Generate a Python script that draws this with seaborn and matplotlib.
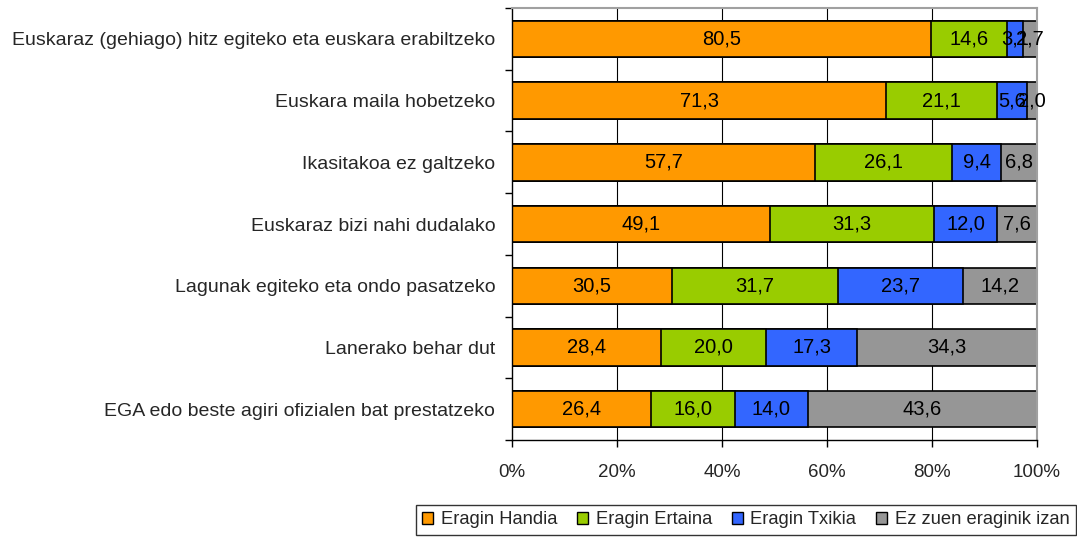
import numpy as np
import pandas as pd
import matplotlib
matplotlib.use("Agg")
import matplotlib.pyplot as plt
from matplotlib.patches import Patch
import seaborn as sns

# Data (percent)
categories = [
    "Euskaraz (gehiago) hitz egiteko eta euskara erabiltzeko",
    "Euskara maila hobetzeko",
    "Ikasitakoa ez galtzeko",
    "Euskaraz bizi nahi dudalako",
    "Lagunak egiteko eta ondo pasatzeko",
    "Lanerako behar dut",
    "EGA edo beste agiri ofizialen bat prestatzeko",
]
series_names = ["Eragin Handia", "Eragin Ertaina", "Eragin Txikia", "Ez zuen eraginik izan"]
handia = [80.5, 71.3, 57.7, 49.1, 30.5, 28.4, 26.4]
ertaina = [14.6, 21.1, 26.1, 31.3, 31.7, 20.0, 16.0]
txikia = [3.1, 5.6, 9.4, 12.0, 23.7, 17.3, 14.0]
ez = [2.7, 2.0, 6.8, 7.6, 14.2, 34.3, 43.6]
colors = ["#FF9900", "#99CC00", "#3366FF", "#969696"]

sns.set_theme(style="white")
plt.rcParams["font.family"] = ["Liberation Sans", "DejaVu Sans"]

values = np.array([handia, ertaina, txikia, ez], dtype=float)
pct = values / values.sum(axis=0) * 100  # 100% stacked
cum = np.cumsum(pct, axis=0)

fig = plt.figure(figsize=(10.77, 5.39), dpi=100)
ax = fig.add_axes([0.4754, 0.1837, 0.4875, 0.8013])

# draw from longest cumulative to shortest so segments stack visually
for i in range(3, -1, -1):
    df = pd.DataFrame({"cat": categories, "val": cum[i]})
    sns.barplot(data=df, y="cat", x="val", orient="h", color=colors[i],
                saturation=1, width=0.59, edgecolor="black", linewidth=1.2,
                ax=ax, zorder=2)

# segment labels
for i in range(4):
    starts = cum[i] - pct[i]
    for j in range(len(categories)):
        lab = f"{values[i, j]:.1f}".replace(".", ",")
        ax.text(starts[j] + pct[i, j] / 2, j, lab, ha="center", va="center",
                fontsize=14.5, color="black", zorder=3)

ax.set_xlim(0, 100)
ax.set_ylim(len(categories) - 0.5, -0.5)
ax.set_xticks([0, 20, 40, 60, 80, 100])
ax.set_xticklabels(["0%", "20%", "40%", "60%", "80%", "100%"], fontsize=13.5)
ax.set_yticks(range(len(categories)))
ax.set_yticklabels(categories, fontsize=14.0)
ax.set_yticks(np.arange(-0.5, len(categories)), minor=True)
ax.tick_params(axis="y", which="major", length=0, pad=12)
ax.tick_params(axis="y", which="minor", length=5, width=1, color="black", direction="out", left=True)
ax.tick_params(axis="x", which="major", length=5, width=1, color="black", direction="out", bottom=True, pad=12)
ax.set_xlabel("")
ax.set_ylabel("")

for x in [20, 40, 60, 80]:
    ax.axvline(x, color="black", linewidth=0.8, zorder=1)

for s in ["left", "bottom"]:
    ax.spines[s].set_color("black")
    ax.spines[s].set_linewidth(1)
for s in ["top", "right"]:
    ax.spines[s].set_color("#A0A0A0")
    ax.spines[s].set_linewidth(1.5)

handles = [Patch(facecolor=c, edgecolor="black", linewidth=1) for c in colors]
leg = fig.legend(handles, series_names, loc="upper right", bbox_to_anchor=(0.999, 1 - 505 / 539),
                 borderaxespad=0, ncol=4, fontsize=13.2, frameon=True, fancybox=False,
                 edgecolor="black", handlelength=0.6, handleheight=0.6, handletextpad=0.4,
                 columnspacing=1.1, borderpad=0.35)
leg.get_frame().set_linewidth(1)

fig.savefig("out.png", dpi=100)
